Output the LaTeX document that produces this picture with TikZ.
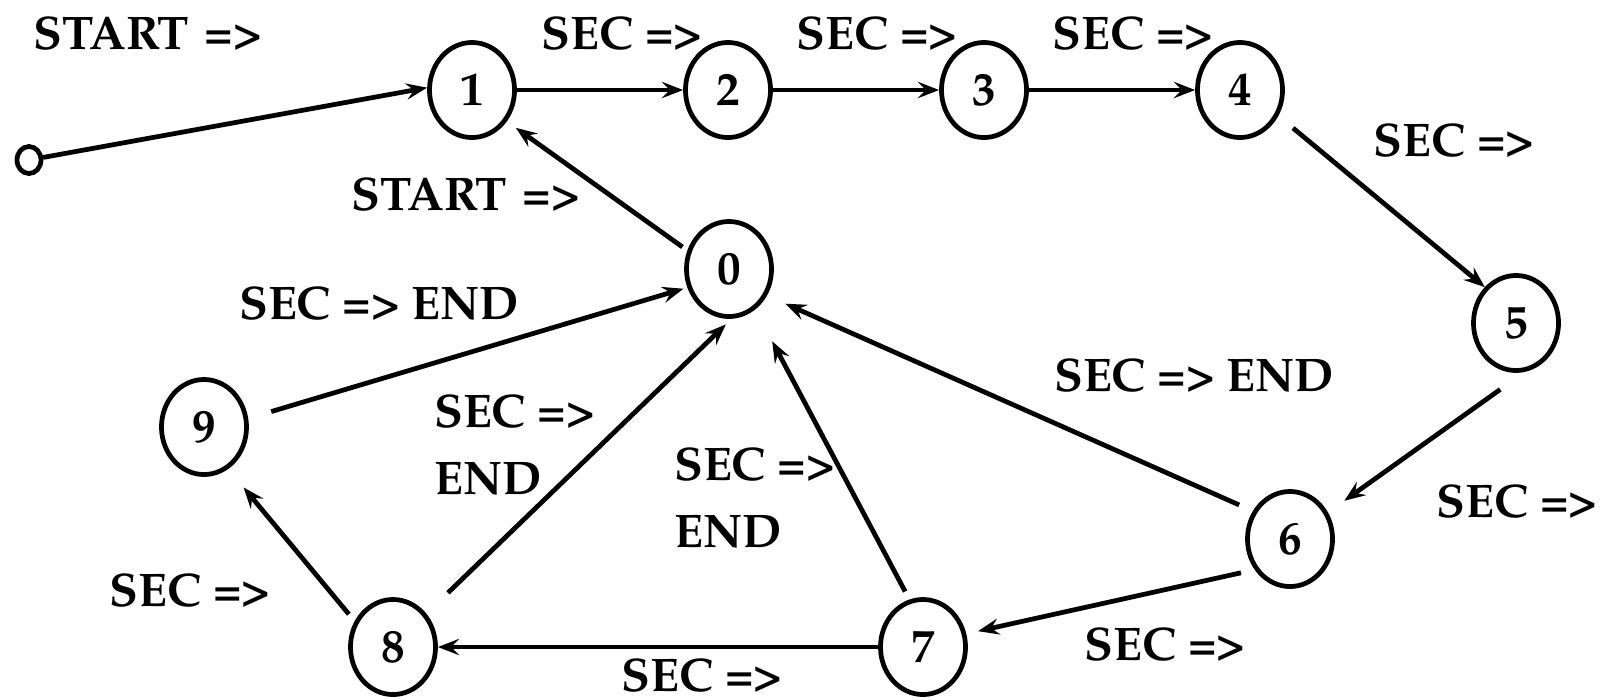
\documentclass[tikz,border=0pt]{standalone}
\usepackage[T1]{fontenc}
\usepackage{mathpazo}
\usetikzlibrary{shapes.geometric}
\usetikzlibrary{arrows.meta}
\tikzstyle{state}=[draw, ellipse, line width=1.35pt, minimum width=0.85cm, minimum height=0.95cm, inner sep=0]
\tikzstyle{entry}=[draw, ellipse, line width=1.35pt, minimum width=0.24cm, minimum height=0.27cm, inner sep=0]
\tikzstyle{move}=[line width=1.35pt, -{Stealth[length=6pt, width=4.6pt, inset=2.2pt]}]
\tikzstyle{cond}=[inner sep=1pt, align=left]

\begin{document}
\begin{tikzpicture}[x=0.01cm, y=-0.01cm, font=\fontsize{13.4}{19}\selectfont\bfseries]
      \useasboundingbox (0, 0) rectangle (1603, 699);

      \node[entry] (s) at (29, 160) {};
      \node[state] (n1) at (472, 90) {1};
      \node[state] (n2) at (728, 90) {2};
      \node[state] (n3) at (984, 90) {3};
      \node[state] (n4) at (1240, 90) {4};
      \node[state] (n5) at (1516, 323) {5};
      \node[state] (n6) at (1290, 539) {6};
      \node[state] (n7) at (923, 647) {7};
      \node[state] (n8) at (393, 647) {8};
      \node[state] (n9) at (204, 427) {9};
      \node[state] (n0) at (729, 269) {0};

      \node[cond] (l_s1) at (148, 33) {START\,\,=>};
      \node[cond] (l_12) at (622, 33) {SEC =>};
      \node[cond] (l_23) at (877, 33) {SEC =>};
      \node[cond] (l_34) at (1133, 33) {SEC =>};
      \node[cond] (l_45) at (1454, 140) {SEC =>};
      \node[cond] (l_56) at (1517, 501) {SEC =>};
      \node[cond] (l_67) at (1165, 644) {SEC =>};
      \node[cond, inner sep=0] (l_78) at (702, 675) {SEC =>};
      \node[cond] (l_89) at (190, 590) {SEC =>};
      \node[cond] (l_01) at (466, 194) {START\,\,=>};
      \node[cond] (l_90) at (379, 303) {SEC => END};
      \node[cond, anchor=west] (l_80) at (430, 445) {SEC =>\\END};
      \node[cond, anchor=west] (l_70) at (670, 498) {SEC =>\\END};
      \node[cond] (l_60) at (1194, 375) {SEC => END};

      \draw[move] (s) -- (n1.177);
      \draw[move] (n1) -- (n2);
      \draw[move] (n2) -- (n3);
      \draw[move] (n3) -- (n4);
      \draw[move, shorten <=0.19cm] (n4.-34) -- (n5.131);
      \draw[move, shorten <=0.3cm, shorten >=0.2cm] (n5.-80) -- (n6.35);
      \draw[move, shorten <=0.14cm, shorten >=0.12cm] (n6.-139) -- (n7.17);
      \draw[move] (n7) -- (n8);
      \draw[move, shorten <=0.09cm, shorten >=0.24cm] (n8.146) -- (n9.-60);
      \draw[move, shorten <=0.24cm, shorten >=0.04cm] (n9.11) -- (n0.-156);
      \draw[move, shorten <=0.3cm, shorten >=0.08cm] (n8.45) -- (n0.-87);
      \draw[move, shorten <=0.09cm, shorten >=0.36cm] (n7.106) -- (n0.-57);
      \draw[move, shorten <=0.15cm, shorten >=0.2cm] (n6.143) -- (n0.-35);
      \draw[move, shorten <=0.06cm, shorten >=0.11cm] (n0.156) -- (n1.-42);
    \end{tikzpicture}
\end{document}
